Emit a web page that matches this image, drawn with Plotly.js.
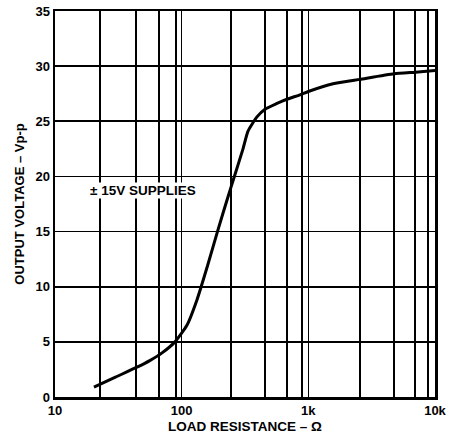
<!DOCTYPE html>
<html>
<head>
<meta charset="utf-8">
<script src="https://cdn.plot.ly/plotly-3.0.1.min.js"></script>
<style>
  html, body { margin: 0; padding: 0; background: #fff; }
  #chart { width: 449px; height: 438px; }
</style>
</head>
<body>
<div id="chart"></div>
<script>
// Load resistance (ohms) and output voltage (V p-p)
const resistance = [20.3, 30, 44.4, 56, 70, 88.5, 110, 132, 160, 194, 230, 264, 305, 334, 393, 455, 560, 677, 859, 1000, 1567, 2558, 4745, 7000, 10000];
const voltage    = [0.9, 1.8, 2.7, 3.3, 4.0, 5.0, 6.5, 8.8, 11.9, 15.2, 18.0, 20.2, 22.5, 24.1, 25.4, 26.1, 26.6, 27.0, 27.4, 27.7, 28.4, 28.8, 29.3, 29.45, 29.6];

// Vertical grid positions of the original graph paper and the labelled decades
const xGridVals = [10, 22.7, 43.5, 66, 90, 100, 245, 455, 680, 890, 1000, 2560, 4750, 6950, 8800, 10000];
const xLabelled = {10: "10", 100: "100", 1000: "1k", 10000: "10k"};
const yTickVals = [0, 5, 10, 15, 20, 25, 30, 35];

const annotationText = "± 15V SUPPLIES";
const xTitle = "LOAD RESISTANCE – Ω";
const yTitle = "OUTPUT VOLTAGE – Vp-p";

const fontFam = "Liberation Sans, Arial, sans-serif";

const trace = {
  x: resistance,
  y: voltage,
  type: "scatter",
  mode: "lines",
  line: { color: "#000", width: 3, shape: "spline", smoothing: 0.5 },
  hoverinfo: "skip"
};

const layout = {
  width: 449,
  height: 438,
  margin: { l: 55, r: 14, t: 11, b: 41 },
  paper_bgcolor: "#fff",
  plot_bgcolor: "#fff",
  showlegend: false,
  font: { family: fontFam, color: "#000" },
  xaxis: {
    type: "log",
    range: [1, 4],
    tickmode: "array",
    tickvals: xGridVals,
    ticktext: xGridVals.map(v => xLabelled[v] || ""),
    showgrid: true,
    gridcolor: "#000",
    gridwidth: 1.6,
    showline: true,
    linecolor: "#000",
    linewidth: 2.5,
    mirror: true,
    ticks: "",
    zeroline: false,
    tickfont: { family: fontFam, size: 13, color: "#000", weight: "bold" },
    title: { text: xTitle, font: { family: fontFam, size: 13.5, color: "#000", weight: "bold" }, standoff: 5 }
  },
  yaxis: {
    range: [0, 35],
    tickmode: "array",
    tickvals: yTickVals,
    ticktext: yTickVals.map(String),
    showgrid: true,
    gridcolor: "#000",
    gridwidth: 1.6,
    showline: true,
    linecolor: "#000",
    linewidth: 2.5,
    mirror: true,
    ticks: "",
    ticklen: 0,
    zeroline: false,
    tickfont: { family: fontFam, size: 13, color: "#000", weight: "bold" },
    title: { text: yTitle, font: { family: fontFam, size: 13, color: "#000", weight: "bold" }, standoff: 8 }
  },
  annotations: [{
    x: Math.log10(49.5),
    y: 18.7,
    xref: "x",
    yref: "y",
    text: annotationText,
    showarrow: false,
    bgcolor: "#fff",
    font: { family: fontFam, size: 13.5, color: "#000", weight: "bold" },
    borderpad: 0
  }]
};

Plotly.newPlot("chart", [trace], layout, { displayModeBar: false, staticPlot: true });
</script>
</body>
</html>
